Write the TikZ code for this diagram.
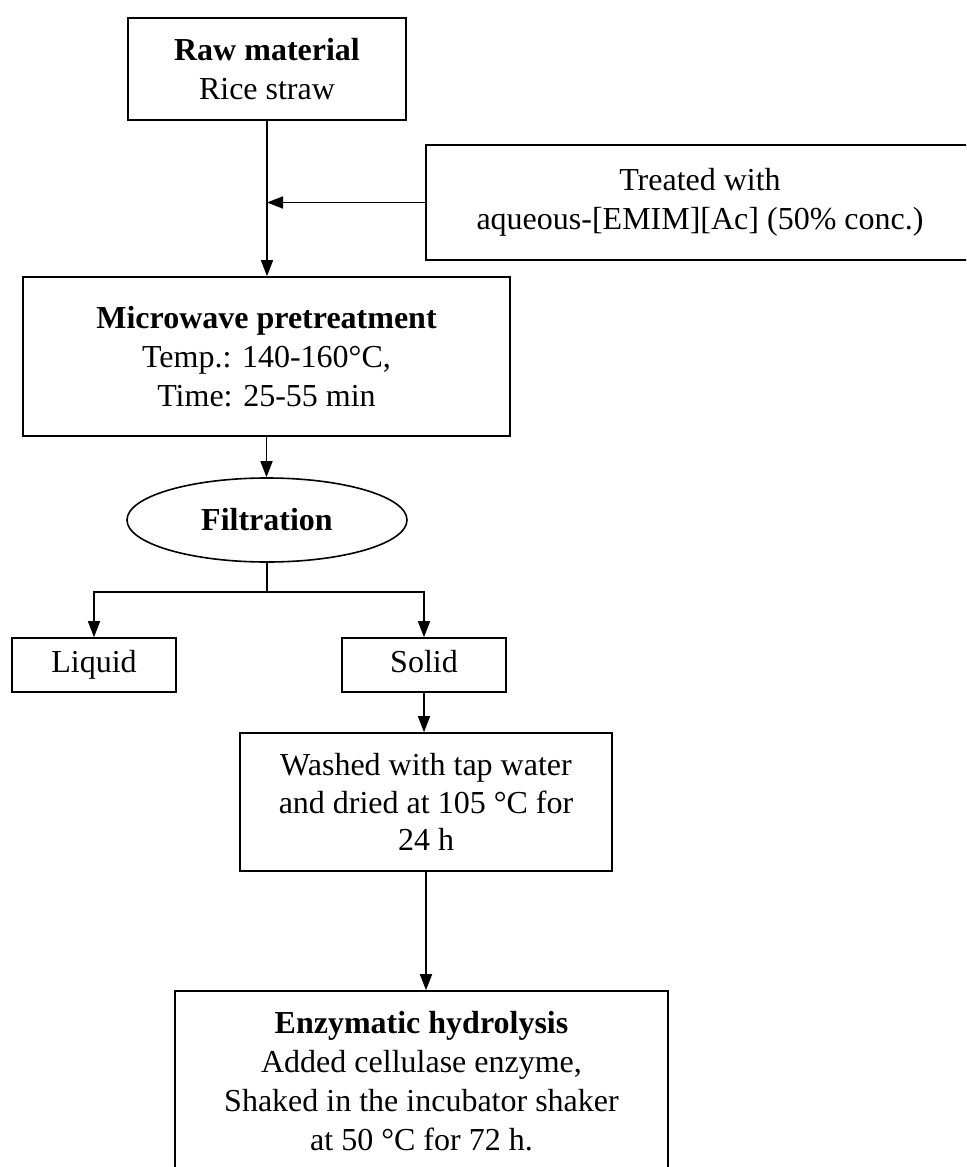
\documentclass[tikz,border=0pt]{standalone}
\usepackage{fontspec}
\setmainfont{Liberation Serif}
\usetikzlibrary{
    shapes.geometric,
    arrows.meta,
    positioning,
    calc,
}

\begin{document}
\begin{tikzpicture}[
    x=0.5pt, y=-0.5pt,
    pbox/.style={rectangle, draw=black, line width=0.8pt, inner sep=2pt, align=center, font=\fontsize{16}{19.5}\selectfont},
    ovalbox/.style={ellipse, draw=black, line width=0.8pt, inner sep=0pt, minimum width=140pt, minimum height=42pt, font=\fontsize{16}{19.5}\selectfont\bfseries},
    arr/.style={-{Triangle[length=8pt, width=6pt]}, line width=0.8pt}
]
    \path[use as bounding box, clip] (0,0) rectangle (966,1167);
    \node[pbox, minimum width=139pt, minimum height=51pt]     (raw)    at (267, 69)     {\textbf{Raw material}\\Rice straw};
    \node[pbox, minimum width=274pt, minimum height=57.5pt]   (treat)  at (700, 202.5)  {Treated with\\aqueous-[EMIM][Ac] (50\% conc.)};
    \node[pbox, minimum width=243.5pt, minimum height=79.5pt] (micro)  at (266.5, 356.5) {\textbf{Microwave pretreatment}\\Temp.: 140-160°C,\\Time: 25-55 min};
    \node[ovalbox]                                            (filt)   at (267, 520)    {Filtration};
    \node[pbox, minimum width=82pt, minimum height=27pt]      (liquid) at (94, 665)     {\strut Liquid};
    \node[pbox, minimum width=82pt, minimum height=27pt]      (solid)  at (424, 665)    {\strut Solid};
    \node[pbox, minimum width=186pt, minimum height=69pt, font=\fontsize{16}{18.75}\selectfont] (washed) at (426, 802) {Washed with tap water\\and dried at 105 °C for\\24 h};
    \node[pbox, minimum width=246.5pt, minimum height=90pt]   (enzy)   at (421.5, 1081) {\textbf{Enzymatic hydrolysis}\\Added cellulase enzyme,\\Shaked in the incubator shaker\\at 50 °C for 72 h.};
    % connectors
    \coordinate (join)  at (267, 202.5);
    \coordinate (split) at (267, 592);
    \draw[arr] (raw.south) -- (raw.south |- micro.north);
    \draw[arr] (treat.west) -- (join);
    \draw[arr] (micro.south) -- (micro.south |- filt.north);
    \draw[line width=0.8pt] (filt.south) -- (split);
    \draw[arr] (split) -| (liquid.north);
    \draw[arr] (split) -| (solid.north);
    \draw[arr] (solid.south) -- (solid.south |- washed.north);
    \draw[arr] (washed.south) -- (washed.south |- enzy.north);
\end{tikzpicture}
\end{document}
